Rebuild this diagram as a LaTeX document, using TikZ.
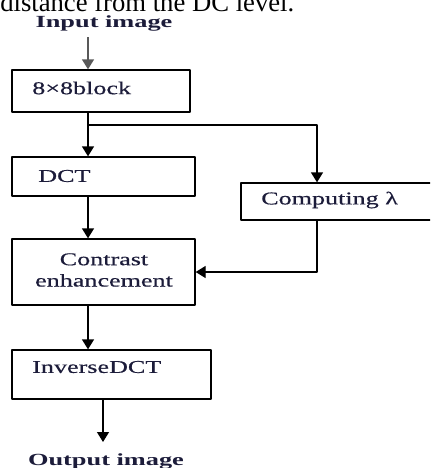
\documentclass[tikz,border=0pt]{standalone}
\usepackage{fontspec}
\setmainfont{Liberation Serif}
\newfontfamily\widefont[FakeStretch=1.45, FakeBold=0.5]{Liberation Serif}
\newfontfamily\widebold[FakeStretch=1.55]{Liberation Serif Bold}
\usetikzlibrary{arrows.meta, positioning, calc}

\definecolor{inkc}{RGB}{28,28,58}

\begin{document}
\begin{tikzpicture}[x=0.75pt, y=-0.75pt, >={Triangle[width=9pt,length=7.5pt]}, line join=round]
    \tikzset{
        box/.style={draw, line width=1pt, inner sep=0pt},
        txt/.style={text=inkc, font=\widefont\fontsize{13.5}{16}\selectfont, inner sep=0pt},
        ttl/.style={text=inkc, font=\widebold\fontsize{12.75}{14}\selectfont, inner sep=0pt},
        flow/.style={->, line width=1pt}
    }
    \useasboundingbox (0,0) rectangle (430,468);
    \clip (0,0) rectangle (430,468);

    % cut-off line of the surrounding text
    \node[anchor=base west, inner sep=0pt, font=\fontsize{20}{24}\selectfont] (para) at (0,11) {distance from the DC level.};

    % boxes
    \node[box, minimum width=133.5pt, minimum height=31.5pt] (blk) at (101,91) {};
    \node[box, minimum width=137.25pt, minimum height=29.25pt] (dct) at (103.5,176.5) {};
    \node[box, minimum width=146.25pt, minimum height=27.75pt] (comp) at (338.5,201.5) {};
    \node[box, minimum width=137.25pt, minimum height=49.5pt] (con) at (103.5,272) {};
    \node[box, minimum width=149.25pt, minimum height=36.75pt] (inv) at (111.5,374.5) {};

    % texts
    \node[ttl] (in) at (104,23) {Input image};
    \node[txt, anchor=west] (blkt) at (32,88) {8×8block};
    \node[txt, anchor=west] (dctt) at (38,176) {DCT};
    \node[txt, anchor=west] (compt) at (261,200) {Computing λ};
    \node[txt, align=center] (cont) at (104,270) {Contrast\\enhancement};
    \node[txt, anchor=west] (invt) at (32,367) {InverseDCT};
    \node[ttl] (out) at (106,461) {Output image};

    \coordinate (ax) at (88,37);
    \coordinate (br) at (88,125);
    \coordinate (cx) at (317,125);
    \coordinate (ox) at (103,442);

    % connectors
    \draw[flow, draw=black!65] (ax) -- (ax |- blk.north);
    \draw[flow] (blk.south -| ax) -- (dct.north -| ax);
    \draw[flow] (br) -- (cx) -- (cx |- comp.north);
    \draw[flow] (dct.south -| ax) -- (con.north -| ax);
    \draw[flow] (cx |- comp.south) |- (con.east);
    \draw[flow] (con.south -| ax) -- (inv.north -| ax);
    \draw[flow] (inv.south -| ox) -- (ox);
\end{tikzpicture}
\end{document}
